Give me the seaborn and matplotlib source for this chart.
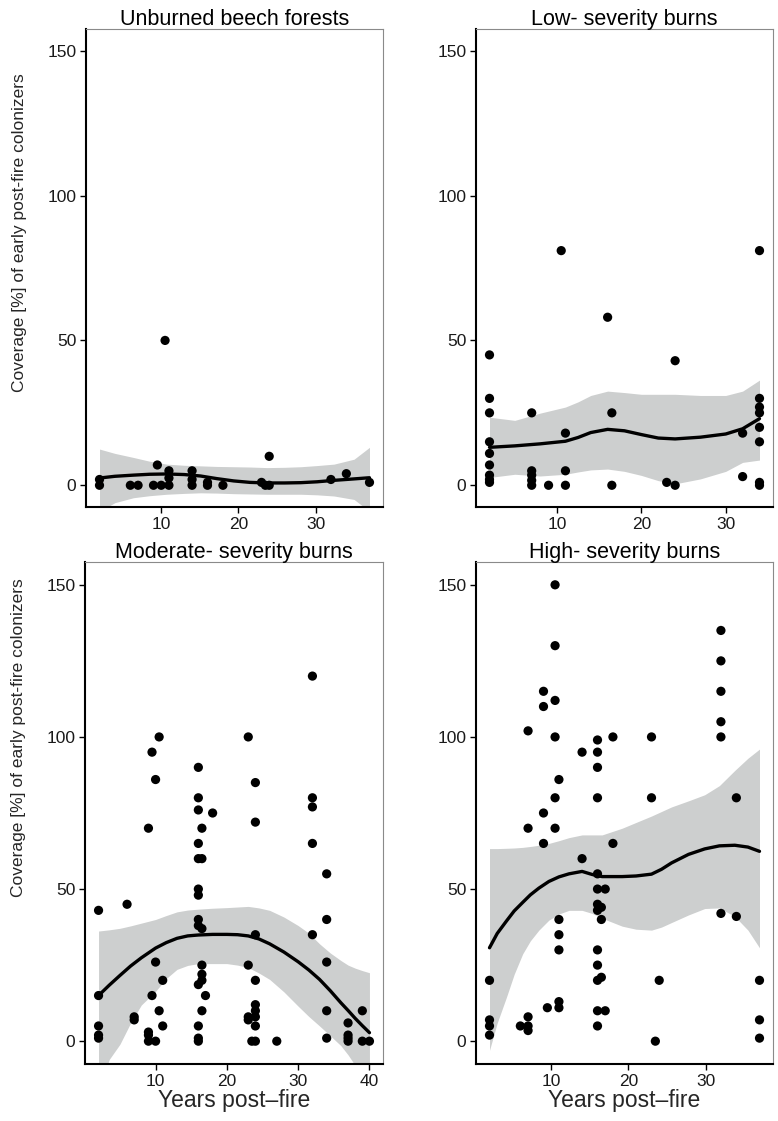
import matplotlib
matplotlib.use("Agg")
import matplotlib.pyplot as plt
import seaborn as sns
import pandas as pd
import numpy as np
from matplotlib import font_manager

sns.set_theme(style="white")
names = {f.name for f in font_manager.fontManager.ttflist}
BASE = "Liberation Sans" if "Liberation Sans" in names else "DejaVu Sans"
NARROW = "Liberation Sans Narrow" if "Liberation Sans Narrow" in names else BASE
plt.rcParams["font.family"] = [BASE, "DejaVu Sans"]

# ---------------- data ----------------
titles = ["Unburned beech forests", "Low- severity burns",
          "Moderate- severity burns", "High- severity burns"]

# Unburned
unb_x = [2, 2, 6, 7, 9, 9.5, 10, 10.5, 11, 11, 11, 14, 14, 14, 16, 16, 18,
         23, 23.5, 24, 24, 32, 34, 37]
unb_y = [2, 0, 0, 0, 0, 7, 0, 50, 0, 2.5, 5, 0, 2, 5, 1, 0, 0,
         1, 0, 0, 10, 2, 4, 1]
unb_fit_x = [2, 4, 6.4, 8.5, 10.7, 13, 15.1, 17.2, 19.4, 21.5, 23.7, 26, 28.1, 30.2, 32.4, 35, 37]
unb_fit = [2.5, 3.1, 3.5, 3.8, 3.9, 3.7, 3.2, 2.3, 1.5, 1.0, 0.8, 0.8, 0.9, 1.2, 1.7, 2.2, 2.6]
unb_hi = [12.5, 11.0, 9.6, 8.3, 7.3, 6.9, 6.7, 6.5, 6.4, 6.3, 6.1, 6.2, 6.4, 6.8, 7.3, 9.0, 13.1]
unb_lo = [-9, -6.0, -4.3, -3.6, -3.1, -2.8, -2.6, -2.7, -2.9, -3.0, -3.1, -3.1, -3.1, -3.3, -3.7, -4.9, -9]

# Low severity
low_x = [2, 2, 2, 2, 2, 2, 2, 2, 2,
         7, 7, 7, 7, 7, 9, 10.5, 11, 11, 11, 16, 16.5, 16.5, 23, 24, 24,
         32, 32, 34, 34, 34, 34, 34, 34, 34, 34]
low_y = [45, 30, 25, 15, 11, 7, 3.5, 2, 1,
         25, 5, 3.5, 1.7, 0, 0, 81, 18, 5, 0, 58, 25, 0, 1, 43, 0,
         18, 3, 81, 30, 27, 25, 20, 15, 1, 0]
low_fit_x = [2, 5, 8, 11, 12.5, 14, 16, 18, 20, 22, 24, 27, 30, 32, 34]
low_fit = [13.1, 13.6, 14.3, 15.2, 16.5, 18.2, 19.3, 18.8, 17.5, 16.3, 16.0, 16.6, 17.7, 19.5, 23.0]
low_hi = [23.5, 22.4, 24.9, 27.0, 28.8, 31.0, 32.5, 32.0, 31.4, 31.4, 31.4, 31.0, 31.0, 32.5, 36.3]
low_lo = [2.7, 3.8, 3.2, 3.8, 4.6, 5.3, 5.6, 4.8, 3.4, 1.6, 0.5, 2.2, 4.8, 7.9, 8.7]

# Moderate severity
mod_x = [2, 2, 2, 2, 2, 6, 7, 7, 9, 9, 9, 9, 9.5, 9.5, 10, 10, 10,
         10.5, 10.5, 11, 11,
         16, 16, 16, 16, 16, 16, 16, 16, 16, 16, 16, 16, 16,
         16.5, 16.5, 16.5, 16.5, 16.5, 16.5, 16.5, 17, 18,
         23, 23, 23, 23, 23.5, 24, 24, 24, 24, 24, 24, 24, 24, 24,
         27, 32, 32, 32, 32, 32, 34, 34, 34, 34, 34,
         37, 37, 37, 37, 39, 39, 40]
mod_y = [43, 15, 5, 2, 1, 45, 8, 7, 70, 3, 2, 0, 95, 15, 86, 26, 0,
         100, 10, 20, 5,
         90, 80, 76, 65, 60, 50, 48, 40, 38, 18.6, 5, 1, 0,
         60, 70, 37, 25, 22, 20, 10, 15, 75,
         100, 25, 8, 7, 0, 85, 72, 35, 20, 12, 10, 8, 5, 0,
         0, 120, 80, 77, 65, 35, 55, 40, 26, 10, 1,
         6, 2, 1, 0, 10, 0, 0]
mod_fit_x = [2, 3.5, 5, 6.5, 8, 10, 11.5, 13, 14.5, 16, 18, 20, 21.5, 23, 24.5, 26,
             28, 30, 31.5, 33, 34.5, 36, 37, 38, 39, 40]
mod_fit = [15, 18.4, 21.6, 24.7, 27.4, 30.6, 32.4, 33.8, 34.6, 34.9, 35.1, 35.1, 35.0, 34.6,
           33.6, 32.0, 29.3, 26.1, 23.4, 20.3, 16.6, 12.6, 10.1, 7.5, 5.1, 2.8]
mod_hi = [36.2, 36.6, 37.1, 37.9, 38.8, 40.0, 41.3, 42.5, 43.1, 43.4, 43.7, 43.9, 44.1, 44.3,
          43.8, 43.0, 40.8, 38.0, 35.5, 32.0, 29.0, 26.5, 25.0, 24.0, 23.2, 22.5]
mod_lo = [-16, -6, -1.0, 6.0, 11.9, 16.4, 20.6, 23.6, 24.9, 25.5, 25.5, 25.5, 25.0, 24.2,
          22.4, 20.3, 16.2, 11.5, 8.1, 5.0, 1.8, -1.5, -4.5, -8, -12, -18]

# High severity
hig_x = [2, 2, 2, 2, 6, 7, 7, 7, 7, 7, 9, 9, 9, 9, 9.5,
         10.5, 10.5, 10.5, 10.5, 10.5, 10.5,
         11, 11, 11, 11, 11, 11, 14, 14,
         16, 16, 16, 16, 16, 16, 16, 16, 16, 16, 16, 16, 16,
         16.5, 16.5, 16.5, 17, 17, 18, 18, 23, 23, 23.5, 24,
         32, 32, 32, 32, 32, 32, 34, 34, 37, 37, 37]
hig_y = [20, 7, 5, 2, 5, 102, 70, 8, 5, 3.5, 115, 110, 75, 65, 11,
         150, 130, 112, 100, 80, 70,
         86, 40, 35, 30, 13, 11, 95, 60,
         99, 95, 90, 80, 55, 50, 45, 43, 30, 25, 20, 10, 5,
         44, 40, 21, 50, 10, 100, 65, 100, 80, 0, 20,
         135, 125, 115, 105, 100, 42, 80, 41, 20, 7, 1]
hig_fit_x = [2, 3, 4.2, 5.2, 6.3, 7.3, 8.4, 9.7, 11, 12.3, 14, 15.3, 16.6, 19.2, 21, 23,
             24.3, 25.6, 27.8, 29.9, 31.8, 33.8, 35.5, 37]
hig_fit = [30.7, 35.4, 39.5, 42.8, 45.6, 48.1, 50.3, 52.5, 54.0, 55.0, 55.8, 54.8, 54.1, 54.1,
           54.3, 54.9, 56.5, 58.6, 61.4, 63.2, 64.2, 64.4, 63.8, 62.4]
hig_hi = [63.3, 63.3, 63.4, 63.5, 63.7, 64.0, 64.4, 65.0, 65.9, 66.9, 67.8, 67.8, 67.8, 70.0,
          71.9, 74.0, 75.5, 77.0, 79.0, 81.0, 84.0, 89.0, 93.0, 96.0]
hig_lo = [-3, 6.0, 14.5, 22.0, 28.7, 33.0, 36.5, 39.8, 41.8, 43.0, 43.0, 42.0, 40.4, 37.8,
          36.8, 36.5, 37.5, 39.0, 41.5, 43.6, 43.8, 41.0, 36.5, 30.7]

panels = [
    (unb_x, unb_y, unb_fit_x, unb_fit, unb_lo, unb_hi),
    (low_x, low_y, low_fit_x, low_fit, low_lo, low_hi),
    (mod_x, mod_y, mod_fit_x, mod_fit, mod_lo, mod_hi),
    (hig_x, hig_y, hig_fit_x, hig_fit, hig_lo, hig_hi),
]
xticks_list = [[10, 20, 30], [10, 20, 30], [10, 20, 30, 40], [10, 20, 30]]
yticks = [0, 50, 100, 150]

# ---------------- layout ----------------
W, H = 778, 1121
fig = plt.figure(figsize=(W / 100, H / 100), dpi=100)

def box(l, r, t, b):
    return [l / W, 1 - b / H, (r - l) / W, (b - t) / H]

rects = [box(86, 383, 29, 507), box(476, 773, 29, 507),
         box(85, 383, 562, 1064), box(476, 773, 562, 1064)]
ylabel_ypos = {0: (507 - 233) / 478, 2: (1064 - 738) / 502}

for i, (px, py, fx, fy, flo, fhi) in enumerate(panels):
    ax = fig.add_axes(rects[i])
    pts = pd.DataFrame({"x": px, "y": py})
    fit = pd.DataFrame({"x": fx, "y": fy, "lo": flo, "hi": fhi})
    ax.fill_between(fit["x"], fit["lo"], fit["hi"], color="#cdcfcf", lw=0, zorder=1)
    sns.scatterplot(data=pts, x="x", y="y", ax=ax, color="black", s=44,
                    edgecolor="none", zorder=3)
    sns.lineplot(data=fit, x="x", y="y", ax=ax, color="black", lw=2.4, zorder=4)
    xmin, xmax = min(px), max(px)
    pad = (xmax - xmin) * 0.05
    ax.set_xlim(xmin - pad, xmax + pad)
    ax.set_ylim(-7.5, 157.5)
    ax.set_xticks(xticks_list[i])
    ax.set_yticks(yticks)
    ax.tick_params(axis="both", direction="out", length=4, width=1,
                   color="black", labelsize=12.5, labelcolor="#1a1a1a", pad=3,
                   left=True, bottom=True)
    for s in ["left", "bottom"]:
        ax.spines[s].set_color("black")
        ax.spines[s].set_linewidth(1.5)
    for s in ["top", "right"]:
        ax.spines[s].set_color("#8a8a8a")
        ax.spines[s].set_linewidth(0.8)
    ax.set_title(titles[i], fontsize=15.5, pad=3, color="black")
    ax.set_ylabel("")
    if i >= 2:
        ax.set_xlabel("Years post\u2013fire", fontsize=16.5, labelpad=0,
                      family=[NARROW, BASE])
    else:
        ax.set_xlabel("")
    if i % 2 == 0:
        ax.set_ylabel("Coverage [%] of early post-fire colonizers",
                      fontsize=12.5, family=[NARROW, BASE])
        ax.yaxis.set_label_coords(-59 / (rects[i][2] * W), ylabel_ypos[i])

fig.savefig("out.png", dpi=100, facecolor="white")
